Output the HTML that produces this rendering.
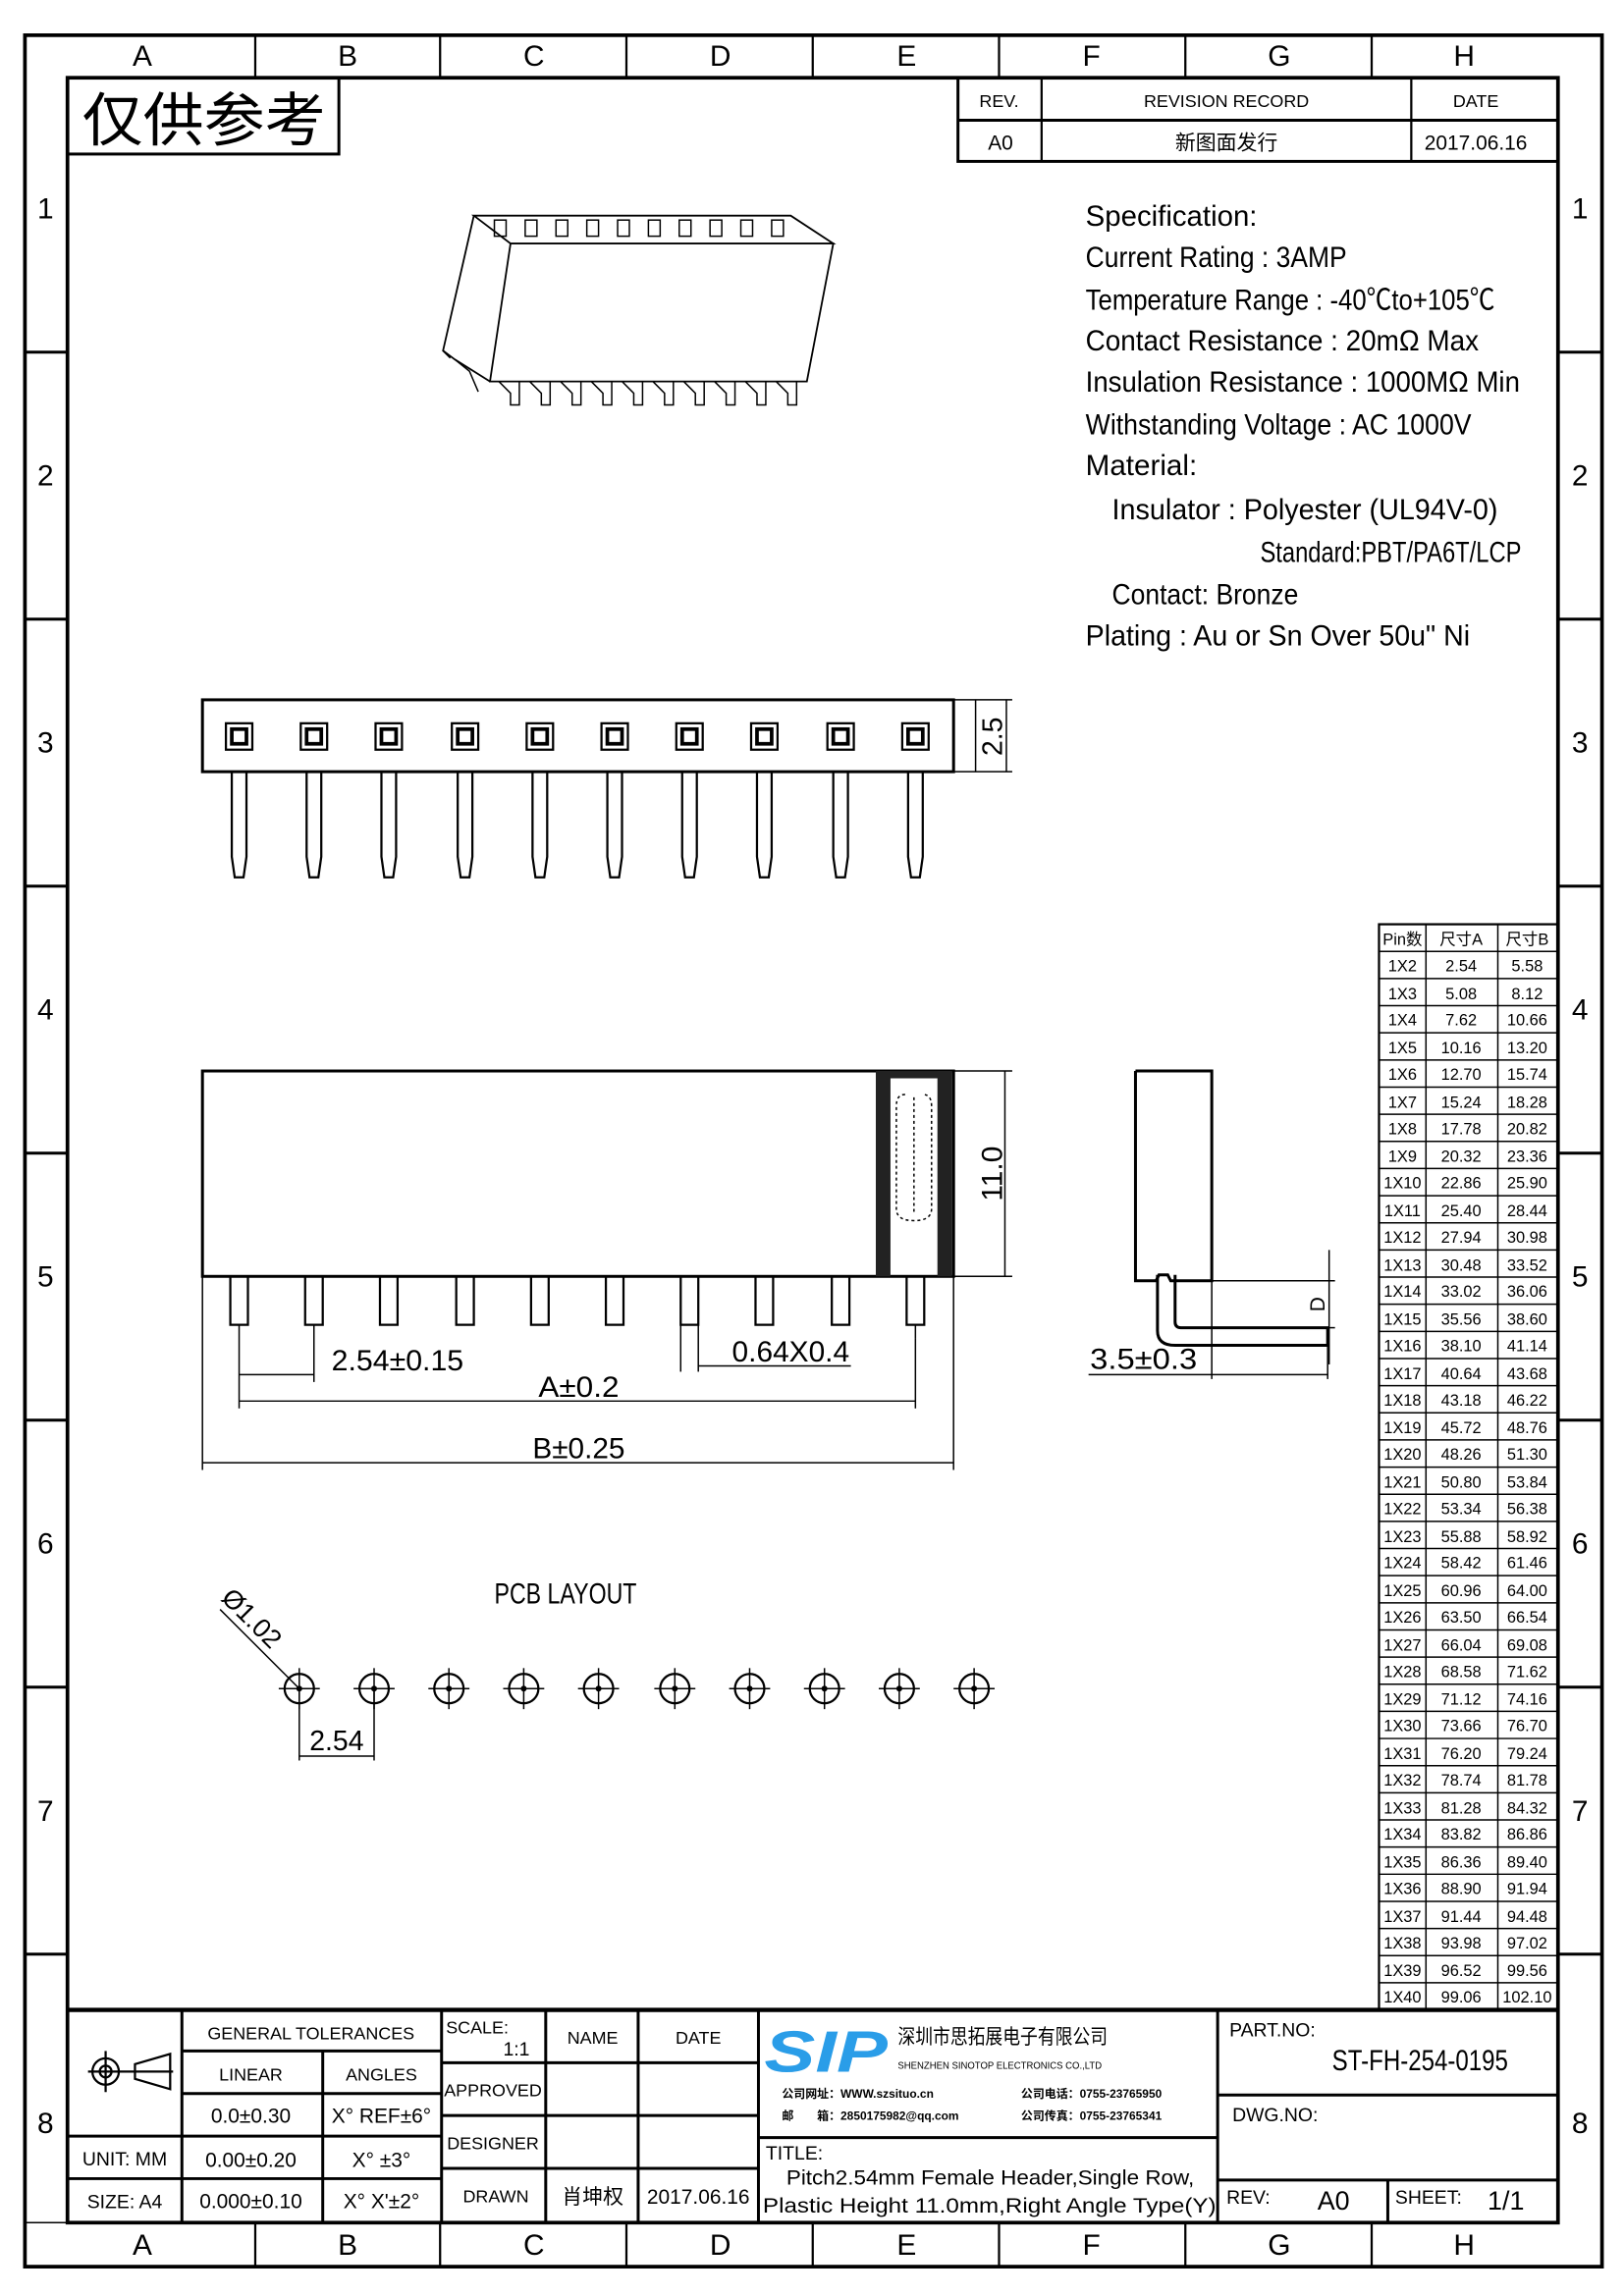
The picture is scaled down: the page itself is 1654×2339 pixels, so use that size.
<!DOCTYPE html>
<html><head><meta charset="utf-8"><style>
html,body{margin:0;padding:0;background:#fff}
svg{display:block}
text{font-family:"Liberation Sans","Noto Sans CJK SC",sans-serif;fill:#000}
.n{font-family:"Liberation Sans Narrow","Liberation Sans","Noto Sans CJK SC",sans-serif}
</style></head><body>
<svg width="1654" height="2339" viewBox="0 0 1107 1565" preserveAspectRatio="none" xmlns="http://www.w3.org/2000/svg">
<defs>
<g id="sq"><rect x="-9" y="-9" width="18" height="18" fill="none" stroke="#000" stroke-width="1.5"/><rect x="-5" y="-5" width="10" height="10" fill="none" stroke="#000" stroke-width="2.5"/></g>
<g id="pin"><polygon points="-5,0 5,0 5,58 3,72 -3,72 -5,58" fill="none" stroke="#000" stroke-width="1.5"/></g>
<g id="spin"><polyline points="-6,0 -6,33 6,33 6,0" fill="none" stroke="#000" stroke-width="1.5"/></g>
<g id="hole"><circle r="10" fill="none" stroke="#000" stroke-width="1.5"/><line x1="-14" y1="0" x2="14" y2="0" stroke="#000"/><line x1="0" y1="-14" x2="0" y2="14" stroke="#000"/><circle r="2" fill="#000"/></g>
</defs>
<!-- frame -->
<g stroke="#000" fill="none">
<rect x="17" y="24" width="1075" height="1521" stroke-width="2.5"/>
<rect x="46" y="53" width="1016" height="1462" stroke-width="2.5"/>
<line x1="17" y1="1515" x2="46" y2="1515"/>
<g stroke-width="1.5">
<line x1="174" y1="24" x2="174" y2="53"/><line x1="300" y1="24" x2="300" y2="53"/><line x1="427" y1="24" x2="427" y2="53"/><line x1="554" y1="24" x2="554" y2="53"/><line x1="681" y1="24" x2="681" y2="53"/><line x1="808" y1="24" x2="808" y2="53"/><line x1="935" y1="24" x2="935" y2="53"/>
<line x1="174" y1="1515" x2="174" y2="1545"/><line x1="300" y1="1515" x2="300" y2="1545"/><line x1="427" y1="1515" x2="427" y2="1545"/><line x1="554" y1="1515" x2="554" y2="1545"/><line x1="681" y1="1515" x2="681" y2="1545"/><line x1="808" y1="1515" x2="808" y2="1545"/><line x1="935" y1="1515" x2="935" y2="1545"/>
</g>
<g stroke-width="2">
<line x1="17" y1="240" x2="46" y2="240"/><line x1="17" y1="422" x2="46" y2="422"/><line x1="17" y1="604" x2="46" y2="604"/><line x1="17" y1="786" x2="46" y2="786"/><line x1="17" y1="968" x2="46" y2="968"/><line x1="17" y1="1150" x2="46" y2="1150"/><line x1="17" y1="1332" x2="46" y2="1332"/>
<line x1="1062" y1="240" x2="1092" y2="240"/><line x1="1062" y1="422" x2="1092" y2="422"/><line x1="1062" y1="604" x2="1092" y2="604"/><line x1="1062" y1="786" x2="1092" y2="786"/><line x1="1062" y1="968" x2="1092" y2="968"/><line x1="1062" y1="1150" x2="1092" y2="1150"/><line x1="1062" y1="1332" x2="1092" y2="1332"/>
</g>
</g>
<g font-size="20" text-anchor="middle" class="n">
<text x="97" y="45">A</text><text x="237" y="45">B</text><text x="364" y="45">C</text><text x="491" y="45">D</text><text x="618" y="45">E</text><text x="744" y="45">F</text><text x="872" y="45">G</text><text x="998" y="45">H</text>
<text x="97" y="1537">A</text><text x="237" y="1537">B</text><text x="364" y="1537">C</text><text x="491" y="1537">D</text><text x="618" y="1537">E</text><text x="744" y="1537">F</text><text x="872" y="1537">G</text><text x="998" y="1537">H</text>
<text x="31" y="149">1</text><text x="31" y="331">2</text><text x="31" y="513">3</text><text x="31" y="695">4</text><text x="31" y="877">5</text><text x="31" y="1059">6</text><text x="31" y="1241">7</text><text x="31" y="1454">8</text>
<text x="1077" y="149">1</text><text x="1077" y="331">2</text><text x="1077" y="513">3</text><text x="1077" y="695">4</text><text x="1077" y="877">5</text><text x="1077" y="1059">6</text><text x="1077" y="1241">7</text><text x="1077" y="1454">8</text>
</g>
<!-- stamp -->
<rect x="46" y="53" width="185" height="52" fill="none" stroke="#000" stroke-width="2"/>
<text x="56" y="96" font-size="40" textLength="166" lengthAdjust="spacingAndGlyphs">仅供参考</text>
<!-- revision -->
<g stroke="#000" fill="none" stroke-width="2">
<rect x="653" y="53" width="409" height="57"/><line x1="653" y1="82" x2="1062" y2="82"/><line x1="710" y1="53" x2="710" y2="110" stroke-width="1.5"/><line x1="962" y1="53" x2="962" y2="110" stroke-width="1.5"/>
</g>
<g font-size="12" text-anchor="middle" class="n">
<text x="681" y="73">REV.</text><text x="836" y="73">REVISION RECORD</text><text x="1006" y="73">DATE</text>
<text x="682" y="102" font-size="14">A0</text><text x="836" y="102" font-size="14">新图面发行</text><text x="1006" y="102" font-size="14">2017.06.16</text>
</g>
<!-- spec -->
<g font-size="20" class="n">
<text x="740" y="154" textLength="117" lengthAdjust="spacingAndGlyphs">Specification:</text>
<text x="740" y="182" textLength="178" lengthAdjust="spacingAndGlyphs">Current Rating : 3AMP</text>
<text x="740" y="211" textLength="279" lengthAdjust="spacingAndGlyphs">Temperature Range : -40℃to+105℃</text>
<text x="740" y="239" textLength="268" lengthAdjust="spacingAndGlyphs">Contact Resistance : 20mΩ Max</text>
<text x="740" y="267" textLength="296" lengthAdjust="spacingAndGlyphs">Insulation Resistance : 1000MΩ Min</text>
<text x="740" y="296" textLength="263" lengthAdjust="spacingAndGlyphs">Withstanding Voltage : AC 1000V</text>
<text x="740" y="324" textLength="76" lengthAdjust="spacingAndGlyphs">Material:</text>
<text x="758" y="354" textLength="263" lengthAdjust="spacingAndGlyphs">Insulator : Polyester (UL94V-0)</text>
<text x="859" y="383" textLength="178" lengthAdjust="spacingAndGlyphs">Standard:PBT/PA6T/LCP</text>
<text x="758" y="412" textLength="127" lengthAdjust="spacingAndGlyphs">Contact: Bronze</text>
<text x="740" y="440" textLength="262" lengthAdjust="spacingAndGlyphs">Plating : Au or Sn Over 50u" Ni</text>
</g>
<!-- iso view -->
<g stroke="#000" fill="none" stroke-width="1.2">
<polygon points="323,147 539,147 568,166 348,166"/>
<polygon points="348,166 568,166 550,260 334,260"/>
<polyline points="323,147 302,239 310,245 334,260"/>
<line x1="302" y1="239" x2="307" y2="244"/>
<g stroke-width="1">
<rect x="337" y="150" width="8" height="11"/><rect x="358" y="150" width="8" height="11"/><rect x="379" y="150" width="8" height="11"/><rect x="400" y="150" width="8" height="11"/><rect x="421" y="150" width="8" height="11"/><rect x="442" y="150" width="8" height="11"/><rect x="463" y="150" width="8" height="11"/><rect x="484" y="150" width="8" height="11"/><rect x="505" y="150" width="8" height="11"/><rect x="526" y="150" width="8" height="11"/>
<path d="M340 260 l8 8 v8 h6 v-16 M361 260 l8 8 v8 h6 v-16 M382 260 l8 8 v8 h6 v-16 M403 260 l8 8 v8 h6 v-16 M424 260 l8 8 v8 h6 v-16 M445 260 l8 8 v8 h6 v-16 M466 260 l8 8 v8 h6 v-16 M487 260 l8 8 v8 h6 v-16 M508 260 l8 8 v8 h6 v-16 M529 260 l8 8 v8 h6 v-16"/>
<path d="M310 245 l10 8 l6 14"/>
</g>
</g>
<!-- front view -->
<rect x="138" y="477" width="512" height="49" fill="none" stroke="#000" stroke-width="2"/>
<g>
<use href="#sq" x="163" y="502"/><use href="#sq" x="214" y="502"/><use href="#sq" x="265" y="502"/><use href="#sq" x="317" y="502"/><use href="#sq" x="368" y="502"/><use href="#sq" x="419" y="502"/><use href="#sq" x="470" y="502"/><use href="#sq" x="521" y="502"/><use href="#sq" x="573" y="502"/><use href="#sq" x="624" y="502"/>
<use href="#pin" x="163" y="526"/><use href="#pin" x="214" y="526"/><use href="#pin" x="265" y="526"/><use href="#pin" x="317" y="526"/><use href="#pin" x="368" y="526"/><use href="#pin" x="419" y="526"/><use href="#pin" x="470" y="526"/><use href="#pin" x="521" y="526"/><use href="#pin" x="573" y="526"/><use href="#pin" x="624" y="526"/>
</g>
<g stroke="#000" stroke-width="1"><line x1="650" y1="477" x2="690" y2="477"/><line x1="650" y1="526" x2="690" y2="526"/><line x1="686" y1="477" x2="686" y2="526"/><line x1="665" y1="477" x2="665" y2="526"/></g>
<text transform="translate(683,502) rotate(-90)" font-size="19" text-anchor="middle" class="n">2.5</text>
<!-- side view -->
<rect x="138" y="730" width="512" height="140" fill="none" stroke="#000" stroke-width="2"/>
<rect x="597" y="730" width="10" height="140" fill="#222"/><rect x="639" y="730" width="10" height="140" fill="#222"/>
<rect x="597" y="730" width="52" height="5" fill="#222"/>
<path d="M617 746 q-6 0 -6 8 v70 q0 8 12 8 q12 0 12 -8 v-70 q0 -8 -6 -8 M623 748 v80" fill="none" stroke="#000" stroke-dasharray="2,2"/>
<g>
<use href="#spin" x="163" y="870"/><use href="#spin" x="214" y="870"/><use href="#spin" x="265" y="870"/><use href="#spin" x="317" y="870"/><use href="#spin" x="368" y="870"/><use href="#spin" x="419" y="870"/><use href="#spin" x="470" y="870"/><use href="#spin" x="521" y="870"/><use href="#spin" x="573" y="870"/>
</g>
<polyline points="618,870 618,903 630,903 630,870" fill="none" stroke="#000" stroke-width="1.5"/>
<line x1="624" y1="903" x2="624" y2="912" stroke="#000"/>
<g stroke="#000" stroke-width="1">
<line x1="650" y1="730" x2="690" y2="730"/><line x1="650" y1="870" x2="690" y2="870"/><line x1="685" y1="730" x2="685" y2="870"/>
<line x1="163" y1="903" x2="163" y2="960"/><line x1="214" y1="903" x2="214" y2="942"/><line x1="624" y1="912" x2="624" y2="960"/>
<line x1="163" y1="937" x2="214" y2="937"/><line x1="163" y1="955" x2="624" y2="955"/>
<line x1="138" y1="870" x2="138" y2="1002"/><line x1="650" y1="870" x2="650" y2="1002"/><line x1="138" y1="997" x2="650" y2="997"/>
<line x1="464" y1="903" x2="464" y2="935"/><line x1="476" y1="903" x2="476" y2="935"/><line x1="476" y1="931" x2="580" y2="931"/>
</g>
<g font-size="20" class="n">
<text x="226" y="934" textLength="90" lengthAdjust="spacingAndGlyphs">2.54±0.15</text>
<text x="499" y="928" textLength="80" lengthAdjust="spacingAndGlyphs">0.64X0.4</text>
<text x="367" y="952" textLength="55" lengthAdjust="spacingAndGlyphs">A±0.2</text>
<text x="363" y="994" textLength="63" lengthAdjust="spacingAndGlyphs">B±0.25</text>
</g>
<text transform="translate(683,800) rotate(-90)" font-size="20" text-anchor="middle" class="n">11.0</text>
<!-- right view -->
<g stroke="#000" fill="none" stroke-width="2">
<polyline points="774,730 826,730 826,873 798,873 796,869 790,869 788,873 774,873 774,730"/>
<path d="M789 869 v38 q0 10 12 10 h104 v-12 h-100 q-4 0 -4 -4 v-32"/>
</g>
<g stroke="#000" stroke-width="1">
<line x1="826" y1="873" x2="910" y2="873"/><line x1="905" y1="905" x2="910" y2="905"/><line x1="906" y1="852" x2="906" y2="930"/>
<line x1="826" y1="873" x2="826" y2="940"/><line x1="905" y1="917" x2="905" y2="940"/><line x1="742" y1="937" x2="905" y2="937"/>
</g>
<text transform="translate(903,889) rotate(-90)" font-size="14" text-anchor="middle" class="n">D</text>
<text x="743" y="933" font-size="20" textLength="73" lengthAdjust="spacingAndGlyphs" class="n">3.5±0.3</text>
<!-- pcb -->
<text x="337" y="1093" font-size="20" textLength="97" lengthAdjust="spacingAndGlyphs" class="n">PCB LAYOUT</text>
<g>
<use href="#hole" x="204" y="1151"/><use href="#hole" x="255" y="1151"/><use href="#hole" x="306" y="1151"/><use href="#hole" x="357" y="1151"/><use href="#hole" x="408" y="1151"/><use href="#hole" x="460" y="1151"/><use href="#hole" x="511" y="1151"/><use href="#hole" x="562" y="1151"/><use href="#hole" x="613" y="1151"/><use href="#hole" x="664" y="1151"/>
</g>
<g stroke="#000" stroke-width="1"><line x1="150" y1="1097" x2="204" y2="1151"/><line x1="204" y1="1151" x2="204" y2="1200"/><line x1="255" y1="1151" x2="255" y2="1200"/><line x1="204" y1="1197" x2="255" y2="1197"/></g>
<text transform="translate(150,1090) rotate(45)" font-size="18" class="n">Ø1.02</text>
<text x="211" y="1193" font-size="19" class="n">2.54</text>
<!-- table -->
<g stroke="#000" fill="none" stroke-width="1">
<rect x="940" y="630" width="122" height="740" stroke-width="1.5"/>
<line x1="972" y1="630" x2="972" y2="1370"/><line x1="1021" y1="630" x2="1021" y2="1370"/>
<path d="M940 648.5h122M940 667h122M940 685.5h122M940 704h122M940 722.5h122M940 741h122M940 759.5h122M940 778h122M940 796.5h122M940 815h122M940 833.5h122M940 852h122M940 870.5h122M940 889h122M940 907.5h122M940 926h122M940 944.5h122M940 963h122M940 981.5h122M940 1000h122M940 1018.5h122M940 1037h122M940 1055.5h122M940 1074h122M940 1092.5h122M940 1111h122M940 1129.5h122M940 1148h122M940 1166.5h122M940 1185h122M940 1203.5h122M940 1222h122M940 1240.5h122M940 1259h122M940 1277.5h122M940 1296h122M940 1314.5h122M940 1333h122M940 1351.5h122"/>
</g>
<g font-size="11" text-anchor="middle" class="n">
<text x="956" y="644">Pin数</text><text x="996" y="644">尺寸A</text><text x="1041" y="644">尺寸B</text>
<text x="956" y="662">1X2</text><text x="996" y="662">2.54</text><text x="1041" y="662">5.58</text>
<text x="956" y="681">1X3</text><text x="996" y="681">5.08</text><text x="1041" y="681">8.12</text>
<text x="956" y="699">1X4</text><text x="996" y="699">7.62</text><text x="1041" y="699">10.66</text>
<text x="956" y="718">1X5</text><text x="996" y="718">10.16</text><text x="1041" y="718">13.20</text>
<text x="956" y="736">1X6</text><text x="996" y="736">12.70</text><text x="1041" y="736">15.74</text>
<text x="956" y="755">1X7</text><text x="996" y="755">15.24</text><text x="1041" y="755">18.28</text>
<text x="956" y="773">1X8</text><text x="996" y="773">17.78</text><text x="1041" y="773">20.82</text>
<text x="956" y="792">1X9</text><text x="996" y="792">20.32</text><text x="1041" y="792">23.36</text>
<text x="956" y="810">1X10</text><text x="996" y="810">22.86</text><text x="1041" y="810">25.90</text>
<text x="956" y="829">1X11</text><text x="996" y="829">25.40</text><text x="1041" y="829">28.44</text>
<text x="956" y="847">1X12</text><text x="996" y="847">27.94</text><text x="1041" y="847">30.98</text>
<text x="956" y="866">1X13</text><text x="996" y="866">30.48</text><text x="1041" y="866">33.52</text>
<text x="956" y="884">1X14</text><text x="996" y="884">33.02</text><text x="1041" y="884">36.06</text>
<text x="956" y="903">1X15</text><text x="996" y="903">35.56</text><text x="1041" y="903">38.60</text>
<text x="956" y="921">1X16</text><text x="996" y="921">38.10</text><text x="1041" y="921">41.14</text>
<text x="956" y="940">1X17</text><text x="996" y="940">40.64</text><text x="1041" y="940">43.68</text>
<text x="956" y="958">1X18</text><text x="996" y="958">43.18</text><text x="1041" y="958">46.22</text>
<text x="956" y="977">1X19</text><text x="996" y="977">45.72</text><text x="1041" y="977">48.76</text>
<text x="956" y="995">1X20</text><text x="996" y="995">48.26</text><text x="1041" y="995">51.30</text>
<text x="956" y="1014">1X21</text><text x="996" y="1014">50.80</text><text x="1041" y="1014">53.84</text>
<text x="956" y="1032">1X22</text><text x="996" y="1032">53.34</text><text x="1041" y="1032">56.38</text>
<text x="956" y="1051">1X23</text><text x="996" y="1051">55.88</text><text x="1041" y="1051">58.92</text>
<text x="956" y="1069">1X24</text><text x="996" y="1069">58.42</text><text x="1041" y="1069">61.46</text>
<text x="956" y="1088">1X25</text><text x="996" y="1088">60.96</text><text x="1041" y="1088">64.00</text>
<text x="956" y="1106">1X26</text><text x="996" y="1106">63.50</text><text x="1041" y="1106">66.54</text>
<text x="956" y="1125">1X27</text><text x="996" y="1125">66.04</text><text x="1041" y="1125">69.08</text>
<text x="956" y="1143">1X28</text><text x="996" y="1143">68.58</text><text x="1041" y="1143">71.62</text>
<text x="956" y="1162">1X29</text><text x="996" y="1162">71.12</text><text x="1041" y="1162">74.16</text>
<text x="956" y="1180">1X30</text><text x="996" y="1180">73.66</text><text x="1041" y="1180">76.70</text>
<text x="956" y="1199">1X31</text><text x="996" y="1199">76.20</text><text x="1041" y="1199">79.24</text>
<text x="956" y="1217">1X32</text><text x="996" y="1217">78.74</text><text x="1041" y="1217">81.78</text>
<text x="956" y="1236">1X33</text><text x="996" y="1236">81.28</text><text x="1041" y="1236">84.32</text>
<text x="956" y="1254">1X34</text><text x="996" y="1254">83.82</text><text x="1041" y="1254">86.86</text>
<text x="956" y="1273">1X35</text><text x="996" y="1273">86.36</text><text x="1041" y="1273">89.40</text>
<text x="956" y="1291">1X36</text><text x="996" y="1291">88.90</text><text x="1041" y="1291">91.94</text>
<text x="956" y="1310">1X37</text><text x="996" y="1310">91.44</text><text x="1041" y="1310">94.48</text>
<text x="956" y="1328">1X38</text><text x="996" y="1328">93.98</text><text x="1041" y="1328">97.02</text>
<text x="956" y="1347">1X39</text><text x="996" y="1347">96.52</text><text x="1041" y="1347">99.56</text>
<text x="956" y="1365">1X40</text><text x="996" y="1365">99.06</text><text x="1041" y="1365">102.10</text>
</g>
<!-- title block -->
<g stroke="#000" fill="none" stroke-width="2">
<line x1="46" y1="1370" x2="1062" y2="1370" stroke-width="3"/>
<line x1="124" y1="1370" x2="124" y2="1515"/><line x1="220" y1="1398" x2="220" y2="1515"/><line x1="301" y1="1370" x2="301" y2="1515"/>
<line x1="124" y1="1398" x2="301" y2="1398"/><line x1="124" y1="1427" x2="301" y2="1427"/><line x1="46" y1="1456" x2="301" y2="1456"/><line x1="46" y1="1485" x2="301" y2="1485"/>
<line x1="372" y1="1370" x2="372" y2="1515"/><line x1="435" y1="1370" x2="435" y2="1515"/><line x1="517" y1="1370" x2="517" y2="1515"/>
<line x1="301" y1="1406" x2="517" y2="1406"/><line x1="301" y1="1442" x2="517" y2="1442"/><line x1="301" y1="1478" x2="517" y2="1478"/>
<line x1="830" y1="1370" x2="830" y2="1515"/><line x1="517" y1="1457" x2="830" y2="1457"/>
<line x1="830" y1="1428" x2="1062" y2="1428"/><line x1="830" y1="1486" x2="1062" y2="1486"/><line x1="946" y1="1486" x2="946" y2="1515"/>
</g>
<g stroke="#000" fill="none" stroke-width="1.5">
<circle cx="72" cy="1412" r="9"/><circle cx="72" cy="1412" r="4"/><line x1="60" y1="1412" x2="118" y2="1412"/><line x1="72" y1="1398" x2="72" y2="1426"/>
<polygon points="92,1407 116,1400 116,1424 92,1417"/>
</g>
<g font-size="12" class="n" text-anchor="middle">
<text x="212" y="1390">GENERAL TOLERANCES</text>
<text x="171" y="1418">LINEAR</text><text x="260" y="1418">ANGLES</text>
<text x="171" y="1447" font-size="14">0.0±0.30</text><text x="260" y="1447" font-size="14">X° REF±6°</text>
<text x="85" y="1476" font-size="13">UNIT: MM</text><text x="171" y="1477" font-size="14">0.00±0.20</text><text x="260" y="1477" font-size="14">X° ±3°</text>
<text x="85" y="1505" font-size="13">SIZE: A4</text><text x="171" y="1505" font-size="14">0.000±0.10</text><text x="260" y="1505" font-size="14">X° X'±2°</text>
<text x="404" y="1393">NAME</text><text x="476" y="1393">DATE</text>
<text x="336" y="1429">APPROVED</text><text x="336" y="1465">DESIGNER</text><text x="338" y="1501">DRAWN</text>
<text x="404" y="1502" font-size="14">肖坤权</text><text x="476" y="1502" font-size="14">2017.06.16</text>
</g>
<text x="304" y="1386" font-size="12" class="n">SCALE:</text><text x="343" y="1401" font-size="13" class="n">1:1</text>
<!-- logo -->
<text x="521" y="1412" font-size="40" font-weight="bold" font-style="italic" fill="#2a9de8" style="fill:#2a9de8" textLength="84" lengthAdjust="spacingAndGlyphs">SIP</text>
<text x="612" y="1393" font-size="14" textLength="143" lengthAdjust="spacingAndGlyphs">深圳市思拓展电子有限公司</text>
<text x="612" y="1410" font-size="7" textLength="139" lengthAdjust="spacingAndGlyphs">SHENZHEN SINOTOP ELECTRONICS CO.,LTD</text>
<g font-size="8" font-weight="bold">
<text x="533" y="1430">公司网址：WWW.szsituo.cn</text><text x="696" y="1430">公司电话：0755-23765950</text>
<text x="533" y="1445">邮　　箱：2850175982@qq.com</text><text x="696" y="1445">公司传真：0755-23765341</text>
</g>
<g font-size="14" class="n">
<text x="522" y="1472" font-size="13">TITLE:</text>
<text x="536" y="1489" textLength="278" lengthAdjust="spacingAndGlyphs">Pitch2.54mm Female Header,Single Row,</text>
<text x="520" y="1508" textLength="309" lengthAdjust="spacingAndGlyphs">Plastic Height 11.0mm,Right Angle Type(Y)</text>
<text x="838" y="1388" font-size="13">PART.NO:</text>
<text x="908" y="1411" font-size="20" textLength="120" lengthAdjust="spacingAndGlyphs">ST-FH-254-0195</text>
<text x="840" y="1446" font-size="13">DWG.NO:</text>
<text x="836" y="1502" font-size="13">REV:</text><text x="898" y="1506" font-size="18">A0</text>
<text x="951" y="1502" font-size="13">SHEET:</text><text x="1014" y="1506" font-size="18">1/1</text>
</g>
</svg>
</body></html>
